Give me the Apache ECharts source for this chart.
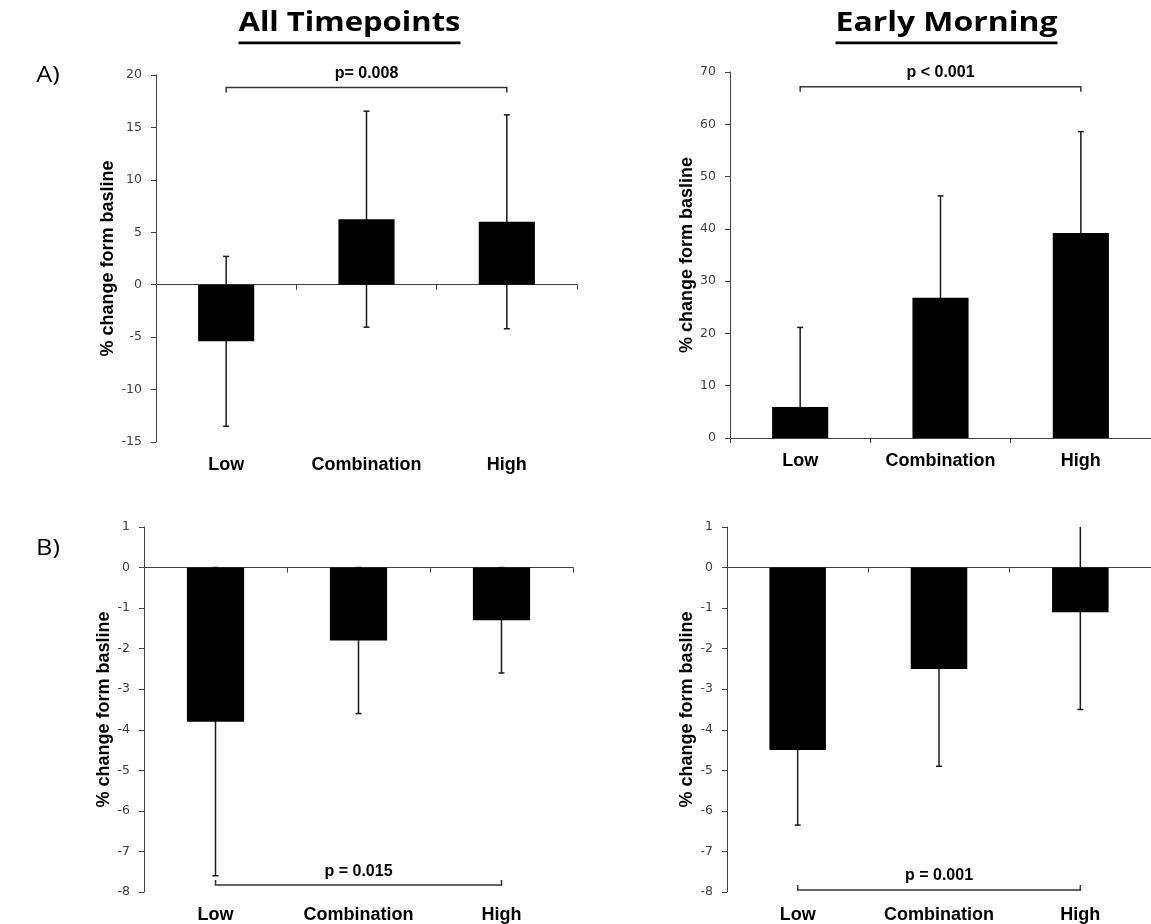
<!DOCTYPE html>
<html>
<head>
<meta charset="utf-8">
<script src="https://cdn.jsdelivr.net/npm/echarts@6/dist/echarts.min.js"></script>
<style>
  html, body { margin: 0; padding: 0; background: #fff; }
  #chart { width: 1151px; height: 924px; }
</style>
</head>
<body>
<div id="chart"></div>
<script>
// Treatment groups shown on every panel
const categories = ['Low', 'Combination', 'High'];

// Panel A (all timepoints / early morning): mean % change and error
const allTimeA = [-5.4, 6.25, 6.0];
const allTimeAErr = [8.1, 10.3, 10.2];
const earlyA = [5.95, 26.8, 39.2];
const earlyAErr = [15.2, 19.5, 19.4];

// Panel B (all timepoints / early morning)
const allTimeB = [-3.8, -1.8, -1.3];
const allTimeBErr = [3.8, 1.8, 1.3];
const earlyB = [-4.5, -2.5, -1.1];
const earlyBErr = [1.85, 2.4, 2.4];

// Value-axis ranges: min, max, step
const yMins = [-15, 0, -8, -8];
const yMaxs = [20, 70, 1, 1];
const ySteps = [5, 10, 1, 1];

// Significance brackets (Low vs High): level on the value axis and label
const bracketLevels = [18.8, 67.2, -7.83, -7.95];
const pLabels = ['p= 0.008', 'p < 0.001', 'p = 0.015', 'p = 0.001'];

const yName = '% change form basline';
const titles = ['All Timepoints', 'Early Morning'];
const rowLabels = ['A)', 'B)'];

const means = [allTimeA, earlyA, allTimeB, earlyB];
const errs = [allTimeAErr, earlyAErr, allTimeBErr, earlyBErr];

// Layout of the four plot areas
const grids = [
  { left: 156, top: 75, width: 421, height: 367 },
  { left: 730, top: 72, width: 425, height: 366 },
  { left: 144, top: 527, width: 429, height: 367 },
  { left: 727, top: 527, width: 428, height: 367 }
];
const nameGaps = [39, 34, 31, 31];
const bracketDown = [true, true, false, false];

const axisColor = '#404040';
const chart = echarts.init(document.getElementById('chart'));

const xAxes = [], yAxes = [], series = [];
grids.forEach((g, i) => {
  // labelled category axis along the bottom edge
  xAxes.push({
    gridIndex: i, type: 'category', data: categories, position: 'bottom',
    axisLine: { show: false, onZero: false },
    axisTick: { show: false },
    axisLabel: { interval: 0, hideOverlap: false, fontFamily: 'Liberation Sans', fontWeight: 'bold',
                 fontSize: 18, color: '#000', margin: 14 }
  });
  // zero line with boundary ticks
  xAxes.push({
    gridIndex: i, type: 'category', data: categories, position: 'bottom',
    axisLine: { show: true, onZero: true, lineStyle: { color: axisColor, width: 1 } },
    axisTick: { show: true, interval: 0, length: 5, lineStyle: { color: axisColor } },
    axisLabel: { show: false }
  });
  yAxes.push({
    gridIndex: i, type: 'value', min: yMins[i], max: yMaxs[i], interval: ySteps[i],
    axisLine: { show: true, lineStyle: { color: axisColor, width: 1 } },
    axisTick: { show: true, length: 5, lineStyle: { color: axisColor } },
    splitLine: { show: false },
    axisLabel: { fontFamily: 'DejaVu Sans', fontSize: 12.5, color: axisColor, margin: 14 },
    name: yName, nameLocation: 'middle', nameRotate: 90, nameGap: nameGaps[i],
    nameTextStyle: { fontFamily: 'Liberation Sans', fontWeight: 'bold', fontSize: 18, color: '#000' }
  });

  series.push({
    type: 'bar', xAxisIndex: i * 2, yAxisIndex: i,
    data: means[i], barWidth: '40%',
    itemStyle: { color: '#000' }, z: 3
  });

  // error bars behind the bars, cut at the plot edges
  const lo = yMins[i], hi = yMaxs[i];
  series.push({
    type: 'custom', xAxisIndex: i * 2, yAxisIndex: i, z: 2, clip: false,
    data: means[i].map((m, k) => [k, m, errs[i][k]]),
    encode: { x: 0, y: 1 },
    renderItem: (params, api) => {
      const x = api.value(0), m = api.value(1), e = api.value(2);
      const top = Math.min(m + e, hi), bot = Math.max(m - e, lo);
      const pt = api.coord([x, top]), pb = api.coord([x, bot]);
      const st = { stroke: '#1a1a1a', lineWidth: 1.5 };
      const kids = [{ type: 'line', shape: { x1: pt[0], y1: pt[1], x2: pb[0], y2: pb[1] }, style: st }];
      if (m + e <= hi) kids.push({ type: 'line', shape: { x1: pt[0] - 3, y1: pt[1], x2: pt[0] + 3, y2: pt[1] }, style: st });
      if (m - e >= lo) kids.push({ type: 'line', shape: { x1: pb[0] - 3, y1: pb[1], x2: pb[0] + 3, y2: pb[1] }, style: st });
      return { type: 'group', children: kids };
    }
  });

  // significance bracket from Low to High
  const down = bracketDown[i];
  series.push({
    type: 'custom', xAxisIndex: i * 2, yAxisIndex: i, z: 4, clip: false,
    data: [[0, 2, bracketLevels[i]]],
    encode: { x: 0, y: 2 },
    renderItem: (params, api) => {
      const lv = api.value(2);
      const p0 = api.coord([api.value(0), lv]);
      const p1 = api.coord([api.value(1), lv]);
      const d = down ? 5 : -5;
      const cx = (p0[0] + p1[0]) / 2;
      return {
        type: 'group',
        children: [
          { type: 'polyline', shape: { points: [[p0[0], p0[1] + d], [p0[0], p0[1]], [p1[0], p1[1]], [p1[0], p1[1] + d]] },
            style: { stroke: '#333', lineWidth: 1.5, fill: null } },
          { type: 'text', x: cx, y: p0[1] - 14,
            style: { text: pLabels[i], fill: '#000', font: 'bold 16px "Liberation Sans"',
                     align: 'center', verticalAlign: 'middle', textAlign: 'center', textVerticalAlign: 'middle' } }
        ]
      };
    }
  });
});

// Column titles (underlined) and row labels
const measure = document.createElement('canvas').getContext('2d');
function fitScale(text, font, target) {
  measure.font = font;
  return target / measure.measureText(text).width;
}
const titleFont = 'bold 26px "Open Sans"';
const titleX = [349.5, 946.5];
const titleW = 222;
const graphic = [];
titles.forEach((t, i) => {
  graphic.push({
    type: 'text', x: titleX[i], y: 24, scaleX: fitScale(t, titleFont, titleW),
    style: { text: t, font: titleFont, fill: '#000', align: 'center', verticalAlign: 'middle',
             textAlign: 'center', textVerticalAlign: 'middle' }
  });
  graphic.push({
    type: 'rect', shape: { x: titleX[i] - titleW / 2, y: 41.5, width: titleW, height: 2.8 },
    style: { fill: '#000' }
  });
});
const rowY = [76, 549];
rowLabels.forEach((t, i) => {
  graphic.push({
    type: 'text', x: 48, y: rowY[i], scaleX: 1.15,
    style: { text: t, font: '22px "Open Sans"', fill: '#000', align: 'center', verticalAlign: 'middle',
             textAlign: 'center', textVerticalAlign: 'middle' }
  });
});

chart.setOption({
  animation: false,
  backgroundColor: '#fff',
  grid: grids.map(g => Object.assign({ containLabel: false }, g)),
  xAxis: xAxes,
  yAxis: yAxes,
  series: series,
  graphic: graphic
});
</script>
</body>
</html>
